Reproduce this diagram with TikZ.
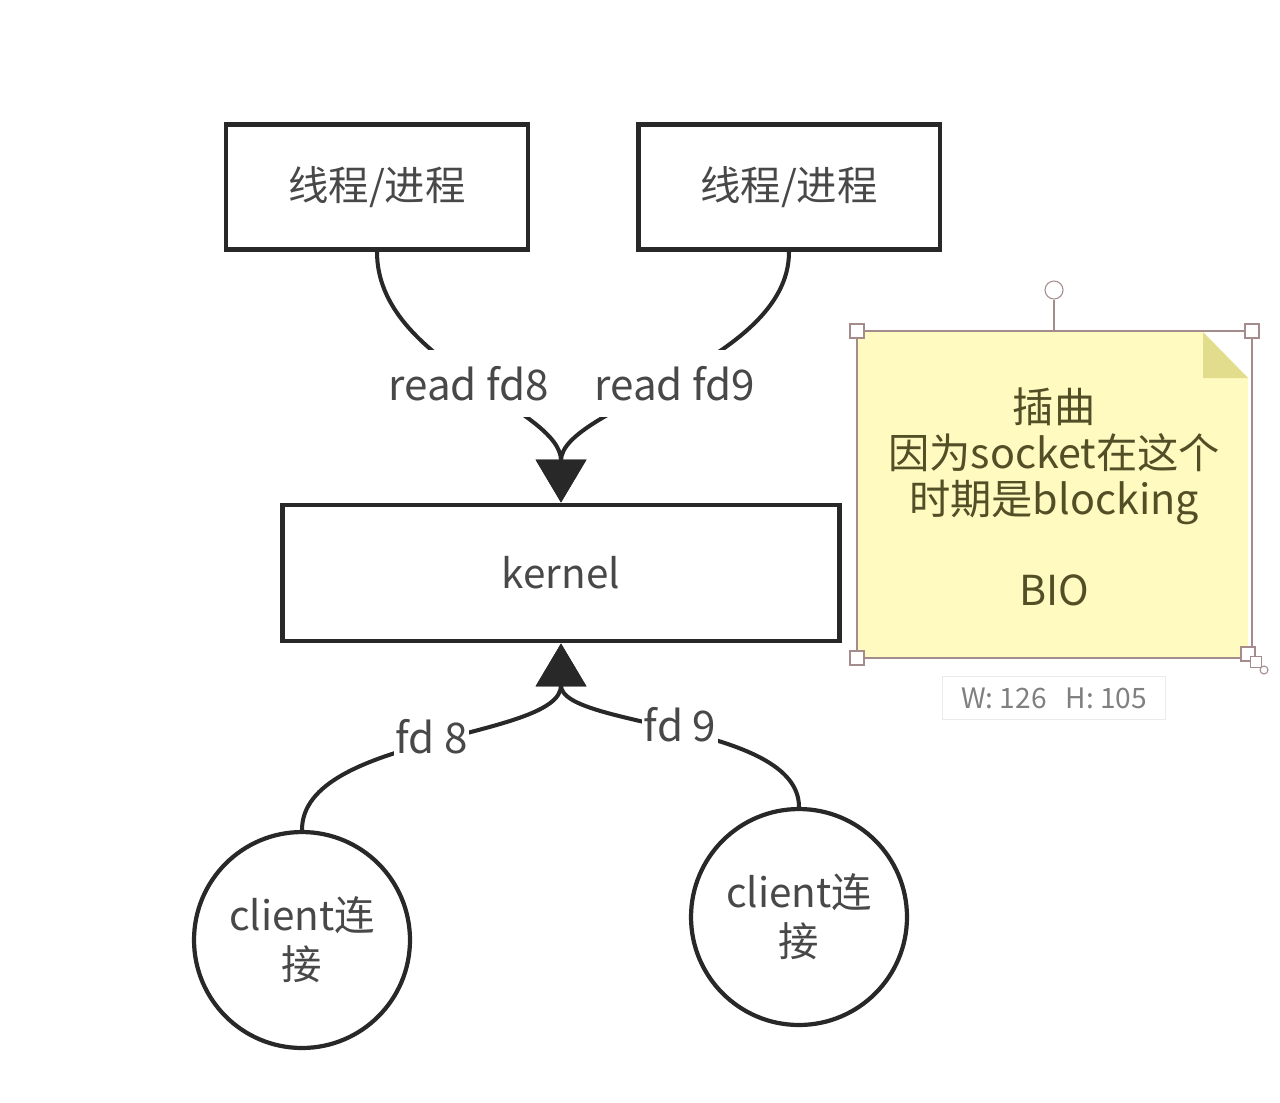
\documentclass[tikz,border=0pt]{standalone}
\usepackage{fontspec}
\setmainfont{Noto Sans CJK SC}
\usetikzlibrary{arrows.meta,positioning}
\definecolor{inkline}{RGB}{40,40,40}
\definecolor{inktext}{RGB}{72,72,72}
\definecolor{notefill}{RGB}{255,250,192}
\definecolor{notefold}{RGB}{226,221,140}
\definecolor{notetext}{RGB}{82,78,38}
\definecolor{handle}{RGB}{165,140,140}

\tikzset{
  procbox/.style={draw=inkline, line width=2.8pt, minimum width=6.04cm, minimum height=2.5cm,
    text=inktext, font=\fontsize{23}{27}\selectfont},
  client/.style={circle, draw=inkline, line width=2.4pt, minimum size=4.32cm, align=center,
    text=inktext, font=\fontsize{23}{28}\selectfont},
  flow/.style={draw=inkline, line width=2.3pt, -{Triangle[length=0.86cm,width=1cm]}},
  flowtag/.style={fill=white, inner xsep=1pt, inner ysep=5pt, text=inktext, font=\fontsize{24}{28}\selectfont},
  grip/.style={draw=handle, fill=white, line width=0.6pt, minimum size=0.28cm, inner sep=0pt},
}

\begin{document}
\begin{tikzpicture}[x=0.02cm, y=-0.02cm]
    \useasboundingbox[fill=white] (0,0) rectangle (1280,1102);

    % threads / processes
    \node[procbox] (thr1) at (377,187) {线程/进程};
    \node[procbox] (thr2) at (789,187) {线程/进程};

    % kernel
    \node[procbox, minimum width=11.14cm, minimum height=2.72cm] (kernel) at (561,573) {kernel};

    % client connections
    \node[client] (cli1) at (302,940) {client连\\接};
    \node[client] (cli2) at (799,917) {client连\\接};

    % reads into the kernel
    \draw[flow] (thr1.south) .. controls +(0,112) and +(0,-95) .. (kernel.north)
        node[flowtag, inner ysep=9pt, pos=0.5] (rd8) {read fd8};
    \draw[flow] (thr2.south) .. controls +(0,112) and +(0,-95) .. (kernel.north)
        node[flowtag, inner ysep=9pt, pos=0.5] (rd9) {read fd9};

    % sockets up to the kernel
    \draw[flow] (cli1.north) .. controls +(0,-95) and +(0,96) .. (kernel.south)
        node[flowtag, pos=0.5] (fd8) {fd 8};
    \draw[flow] (cli2.north) .. controls +(0,-84) and +(0,84) .. (kernel.south)
        node[flowtag, pos=0.5] (fd9) {fd 9};

    % sticky note
    \fill[notefill] (858,332) -- (1203,332) -- (1248,378) -- (1248,658) -- (858,658) -- cycle;
    \fill[notefold] (1203,332) -- (1248,378) -- (1203,378) -- cycle;
    \node[text=notetext, align=center, font=\fontsize{23.5}{26}\selectfont] (memo) at (1054,497)
        {插曲\\因为socket在这个\\时期是blocking\\[26pt]BIO};

    % selection frame of the note
    \draw[handle, line width=0.6pt] (857,331) rectangle (1252,658);
    \node[circle, draw=handle, fill=white, line width=0.6pt, minimum size=0.36cm, inner sep=0pt] (rot) at (1054,290) {};
    \draw[handle, line width=0.6pt] (rot.south) -- (1054,331);
    \foreach \hx/\hy in {857/331,1252/331,857/658}
        \node[grip] at (\hx,\hy) {};
    \node[grip] (rs1) at (1248,654) {};
    \node[grip, minimum size=0.22cm] (rs2) at (1256,662) {};
    \node[grip, circle, minimum size=0.16cm] (rs3) at (1264,670) {};

    % size tag
    \node[draw=black!8, fill=white, minimum width=4.46cm, minimum height=0.86cm,
        text=black!50, font=\fontsize{16}{18}\selectfont] (dims) at (1054,698) {W:\ 126\ \ \ H:\ 105};
\end{tikzpicture}
\end{document}
